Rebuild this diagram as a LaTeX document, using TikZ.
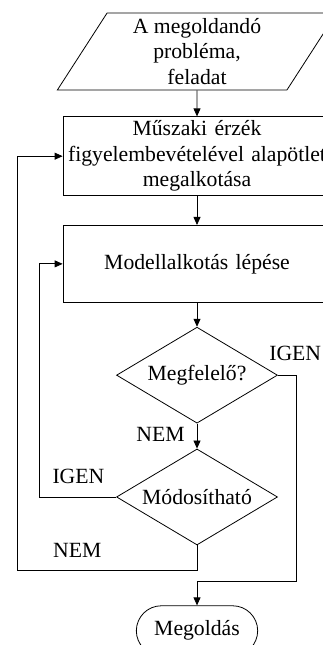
\documentclass[tikz,border=0pt]{standalone}
\usepackage{fontspec}
\setmainfont{Liberation Serif}
\usetikzlibrary{arrows.meta,positioning,shapes.geometric,shapes.misc}

\begin{document}
\begin{tikzpicture}[
    x=1pt, y=1pt,
    font=\fontsize{21.7}{25.5}\selectfont,
    line width=0.8pt,
    box/.style={rectangle,draw,align=center,text width=260pt,minimum height=77pt,inner sep=4pt},
    io/.style={trapezium,trapezium left angle=62.5,trapezium right angle=117.5,trapezium stretches=true,draw,align=center,minimum width=280pt,minimum height=77pt,inner sep=2pt},
    decision/.style={diamond,draw,aspect=1.68,minimum width=161pt,minimum height=96pt,inner sep=0pt},
    terminal/.style={rounded rectangle,draw,minimum width=128pt,minimum height=50pt},
    lbl/.style={inner sep=0pt},
    >={Triangle[length=8pt,width=7pt]}]
    \useasboundingbox (0,0) rectangle (323,-645);
    \node[io] (prob) at (197,-51.5) {A megoldandó\\probléma,\\feladat};
    \node[box,below=26pt of prob] (idea) {Műszaki érzék\\figyelembevételével alapötlet\\megalkotása};
    \node[box,below=29pt of idea] (model) {Modellalkotás lépése};
    \node[decision,below=24pt of model] (check) {Megfelelő?};
    \node[decision,below=25pt of check] (modify) {Módosítható};
    \node[terminal,below=60pt of modify] (result) {Megoldás};
    \coordinate (yesturn) at (296,-581);
    \draw[->] (prob) -- (idea);
    \draw[->] (idea) -- (model);
    \draw[->] (model) -- (check);
    \draw[->] (check) -- node[lbl,pos=0.72,anchor=south east,xshift=-12pt] {NEM} (modify);
    \draw[->] (check.east) node[lbl,anchor=south west,xshift=-9pt,yshift=14pt] {IGEN} -| (yesturn) -| (result);
    \draw[->] (modify.west) node[lbl,anchor=south west,xshift=-64pt,yshift=13pt] {IGEN} -- ++(-77,0) |- (model.west);
    \draw[->] (modify.south) -- ++(0,-25) -- node[lbl,pos=0.667,above=12pt] {NEM} ++(-179.5,0) |- (idea.west);
\end{tikzpicture}
\end{document}
